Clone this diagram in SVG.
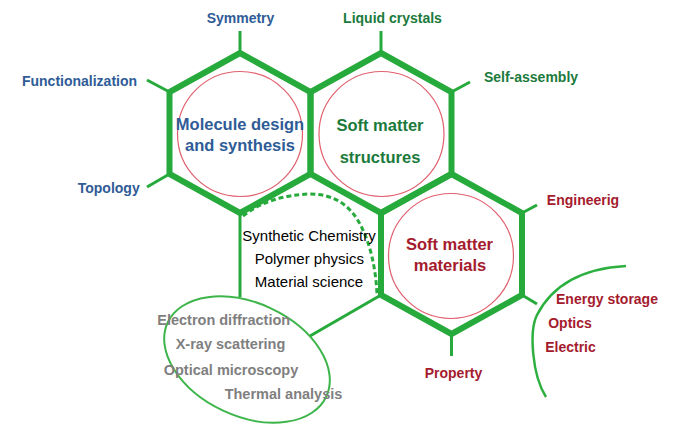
<svg xmlns="http://www.w3.org/2000/svg" width="676" height="424" viewBox="0 0 676 424">
<style>
.hex{fill:none;stroke:#27AA3C;stroke-width:6;stroke-linejoin:miter}
.thin{fill:none;stroke:#27AA3C;stroke-width:3;stroke-linecap:butt}
.ring{fill:none;stroke:#E0606E;stroke-width:1.2}
.lb{font-family:"Liberation Sans",Arial,sans-serif;font-weight:bold;font-size:14px;text-anchor:middle}
.big{font-family:"Liberation Sans",Arial,sans-serif;font-weight:bold;font-size:16.5px;text-anchor:middle}
.mid{font-family:"Liberation Sans",Arial,sans-serif;font-size:15px;text-anchor:middle;fill:#000}
.gray{font-family:"Liberation Sans",Arial,sans-serif;font-weight:bold;font-size:14.5px;text-anchor:middle;fill:#7F7F7F}
.blue{fill:#2F5B97}
.green{fill:#1B7A3B}
.red{fill:#A51B2E}
</style>
<g id="connectors">
<line class="thin" x1="240" y1="53" x2="240" y2="31"/>
<line class="thin" x1="169.5" y1="92" x2="147" y2="80"/>
<line class="thin" x1="169.5" y1="174" x2="147" y2="187"/>
<line class="thin" x1="381" y1="53" x2="381" y2="31"/>
<line class="thin" x1="451.5" y1="92" x2="470" y2="82"/>
<line class="thin" x1="522" y1="213" x2="537" y2="205"/>
<line class="thin" x1="522" y1="295" x2="537" y2="304"/>
<line class="thin" x1="451.5" y1="334" x2="451.5" y2="356"/>
<line class="thin" x1="240" y1="213" x2="240" y2="297"/>
<line class="thin" x1="310" y1="336" x2="381" y2="295"/>
<path class="thin" d="M243,216 Q270,195 310,194 Q346,194 362,228 Q375,255 377,294" stroke-dasharray="5 3"/>
<path fill="none" stroke="#2DB040" stroke-width="2.5" d="M626,266 C590,268 555,280 537,315 C529,331 532,375 546,397"/>
</g>
<g id="node-molecule">
<polygon class="hex" points="240,53 310.5,92 310.5,174 240,213 169.5,174 169.5,92"/>
<circle class="ring" cx="240" cy="134" r="62.5"/>
<text class="big blue" x="240" y="130">Molecule design</text>
<text class="big blue" x="240" y="151">and synthesis</text>
</g>
<g id="node-structures">
<polygon class="hex" points="381,53 451.5,92 451.5,174 381,213 310.5,174 310.5,92"/>
<circle class="ring" cx="381.5" cy="134" r="62.5"/>
<text class="big green" x="380" y="131">Soft matter</text>
<text class="big green" x="380" y="163">structures</text>
</g>
<g id="node-materials">
<polygon class="hex" points="451.5,174 522,213 522,295 451.5,334 381,295 381,213"/>
<circle class="ring" cx="451" cy="256" r="62.5"/>
<text class="big red" x="449.5" y="249.5">Soft matter</text>
<text class="big red" x="450" y="271">materials</text>
</g>
<g id="node-disciplines">
<text class="mid" x="309" y="241">Synthetic Chemistry</text>
<text class="mid" x="309.3" y="264">Polymer physics</text>
<text class="mid" x="309" y="287.3">Material science</text>
</g>
<g id="node-characterization">
<ellipse cx="247" cy="359.5" rx="87.5" ry="56.5" transform="rotate(25 247 359.5)" fill="none" stroke="#3DB54A" stroke-width="2"/>
<text class="gray" x="223.7" y="324.5">Electron diffraction</text>
<text class="gray" x="230.5" y="349">X-ray scattering</text>
<text class="gray" x="231" y="375">Optical microscopy</text>
<text class="gray" x="283.5" y="398.5">Thermal analysis</text>
</g>
<g id="labels">
<text class="lb blue" x="240.5" y="23">Symmetry</text>
<text class="lb green" x="392.5" y="23">Liquid crystals</text>
<text class="lb blue" x="79.5" y="86">Functionalization</text>
<text class="lb green" x="531" y="82">Self-assembly</text>
<text class="lb blue" x="108.7" y="193">Topology</text>
<text class="lb red" x="583" y="205">Engineerig</text>
<text class="lb red" x="607" y="304">Energy storage</text>
<text class="lb red" x="570" y="327.5">Optics</text>
<text class="lb red" x="570.5" y="352">Electric</text>
<text class="lb red" x="453.5" y="377.5">Property</text>
</g>
</svg>
